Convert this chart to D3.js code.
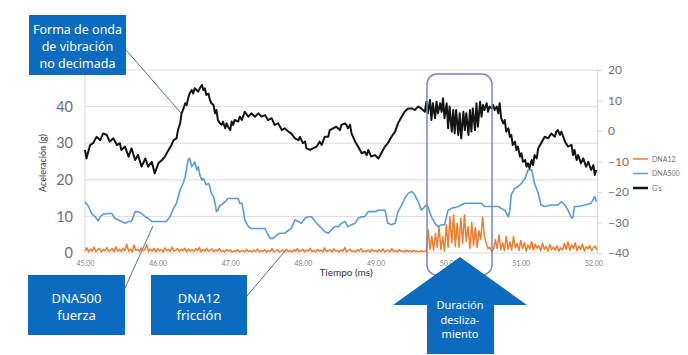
<!DOCTYPE html>
<html><head><meta charset="utf-8">
<script src="https://cdn.jsdelivr.net/npm/d3@7"></script>
<style>html,body{margin:0;padding:0;background:#fff;}svg{display:block;}</style>
</head><body>
<svg id="chart" width="688" height="355"></svg>
<script>
// ---------- DATA ----------
const gridTicks = [0, 10, 20, 30, 40, 50];
const leftTickLabels = [0, 10, 20, 30, 40];   // the "50" label is hidden behind the callout in the original
const rightTicks = [-40, -30, -20, -10, 0, 10, 20];
const xTicks = [45, 46, 47, 48, 49, 50, 51, 52];
const seriesNames = ["DNA12", "DNA500", "G's"];

// G's (right axis): [time ms, value]
const gsData = [[45.00,-6.2],[45.02,-9.0],[45.07,-4.6],[45.11,-4.0],[45.16,-1.9],[45.21,-3.0],[45.25,-0.8],[45.30,-1.3],[45.34,-3.5],[45.39,-2.4],[45.44,-4.6],[45.48,-4.0],[45.50,-6.2],[45.55,-5.1],[45.60,-8.4],[45.64,-5.7],[45.69,-9.5],[45.73,-7.9],[45.78,-11.7],[45.83,-9.0],[45.87,-11.7],[45.92,-10.1],[45.96,-13.9],[46.01,-10.6],[46.06,-9.5],[46.10,-8.4],[46.15,-6.2],[46.19,-4.6],[46.22,-3.0],[46.26,-2.4],[46.28,0.3],[46.31,2.5],[46.33,5.8],[46.35,6.9],[46.38,9.1],[46.40,8.5],[46.42,10.7],[46.44,12.3],[46.47,13.4],[46.49,12.3],[46.51,14.0],[46.56,12.9],[46.58,14.0],[46.61,15.1],[46.63,13.4],[46.65,14.0],[46.67,11.8],[46.70,12.3],[46.72,10.2],[46.74,9.1],[46.77,8.5],[46.79,5.8],[46.81,6.9],[46.83,3.6],[46.86,2.5],[46.88,2.0],[46.90,3.1],[46.93,0.9],[46.95,2.5],[46.97,1.4],[47.00,0.3],[47.02,3.1],[47.04,2.0],[47.06,3.6],[47.11,3.1],[47.13,4.7],[47.16,3.6],[47.20,6.3],[47.25,4.7],[47.29,5.8],[47.34,4.7],[47.39,5.8],[47.43,4.7],[47.48,5.2],[47.52,3.6],[47.57,4.2],[47.61,2.0],[47.66,2.5],[47.71,0.3],[47.75,0.9],[47.80,-0.2],[47.84,-0.8],[47.89,-2.4],[47.94,-3.0],[47.96,-1.9],[48.00,-4.0],[48.03,-3.5],[48.05,-5.7],[48.10,-6.2],[48.14,-5.7],[48.19,-5.1],[48.23,-3.5],[48.26,-4.6],[48.30,-1.9],[48.35,-1.9],[48.37,0.3],[48.42,0.9],[48.46,1.4],[48.51,0.3],[48.53,2.0],[48.58,2.5],[48.60,2.0],[48.62,0.9],[48.65,2.0],[48.67,-0.8],[48.72,-3.5],[48.76,-5.1],[48.81,-7.3],[48.85,-6.8],[48.88,-7.9],[48.90,-6.2],[48.94,-8.4],[48.99,-7.9],[49.04,-9.0],[49.08,-7.3],[49.13,-5.1],[49.17,-4.0],[49.22,-1.9],[49.27,-0.2],[49.31,2.5],[49.36,4.7],[49.40,6.3],[49.45,7.4],[49.50,7.4],[49.54,6.9],[49.59,8.0],[49.63,7.4],[49.68,6.3],[49.70,9.6],[49.72,5.8],[49.75,10.2],[49.77,3.6],[49.79,9.1],[49.82,4.2],[49.84,9.6],[49.86,5.8],[49.89,9.1],[49.91,6.3],[49.93,10.7],[49.95,4.2],[49.98,9.1],[50.00,0.9],[50.02,8.0],[50.05,-0.2],[50.07,6.9],[50.09,-0.8],[50.11,6.9],[50.14,-1.3],[50.16,5.8],[50.18,-2.4],[50.21,6.3],[50.23,0.3],[50.25,5.8],[50.28,-1.3],[50.30,6.9],[50.32,-0.2],[50.34,7.4],[50.37,0.3],[50.39,9.1],[50.41,1.4],[50.44,9.6],[50.46,4.7],[50.48,8.5],[50.50,6.9],[50.53,9.1],[50.55,6.3],[50.57,8.0],[50.60,7.4],[50.62,8.5],[50.64,6.9],[50.67,8.0],[50.69,5.8],[50.71,9.1],[50.73,4.2],[50.76,2.5],[50.78,3.6],[50.80,-0.2],[50.83,0.9],[50.85,-1.9],[50.87,-1.3],[50.89,-4.6],[50.92,-3.5],[50.94,-6.2],[50.96,-5.1],[50.99,-8.4],[51.01,-7.3],[51.03,-10.1],[51.06,-9.5],[51.08,-11.7],[51.10,-10.6],[51.12,-12.2],[51.15,-9.5],[51.17,-11.2],[51.19,-7.9],[51.22,-9.0],[51.24,-5.7],[51.28,-4.0],[51.33,-1.9],[51.38,-2.4],[51.42,-0.8],[51.47,-1.9],[51.49,-0.2],[51.51,0.3],[51.54,-1.3],[51.56,-0.2],[51.61,-3.5],[51.65,-5.1],[51.70,-4.6],[51.72,-7.9],[51.74,-6.2],[51.77,-9.5],[51.79,-7.9],[51.83,-10.6],[51.86,-9.0],[51.90,-11.7],[51.93,-10.1],[51.97,-12.8],[52.00,-11.2],[52.02,-14.4],[52.04,-12.8]];

// DNA500 (left axis): [time ms, value]
const dna500Data = [[45.00,14.0],[45.05,12.7],[45.09,10.8],[45.14,9.9],[45.18,8.8],[45.21,9.9],[45.25,10.6],[45.32,10.8],[45.37,10.8],[45.41,9.5],[45.46,9.0],[45.50,8.6],[45.55,8.1],[45.60,8.6],[45.64,8.6],[45.69,11.3],[45.73,11.3],[45.78,10.8],[45.83,9.9],[45.87,9.5],[45.92,8.6],[45.96,8.6],[46.06,8.6],[46.12,8.6],[46.17,9.9],[46.22,12.2],[46.26,13.6],[46.31,17.2],[46.35,19.0],[46.38,20.9],[46.40,23.1],[46.42,25.4],[46.44,25.9],[46.47,23.6],[46.49,24.0],[46.51,24.9],[46.54,22.7],[46.56,23.6],[46.58,21.3],[46.61,19.9],[46.63,20.4],[46.65,19.5],[46.67,18.6],[46.70,19.0],[46.72,18.1],[46.74,16.3],[46.77,15.4],[46.79,13.6],[46.81,11.3],[46.83,11.7],[46.86,13.1],[46.88,13.1],[46.90,13.6],[46.93,14.0],[46.97,14.9],[47.11,14.9],[47.13,13.6],[47.16,13.6],[47.18,11.7],[47.20,9.0],[47.25,7.2],[47.29,6.7],[47.39,6.7],[47.48,6.7],[47.51,5.4],[47.55,4.0],[47.59,4.0],[47.64,4.9],[47.68,5.4],[47.75,5.4],[47.84,6.7],[47.89,9.0],[47.94,8.6],[47.98,8.1],[48.03,9.5],[48.07,9.9],[48.12,9.9],[48.17,8.6],[48.21,7.7],[48.26,6.7],[48.30,5.8],[48.35,5.4],[48.39,6.3],[48.44,7.2],[48.49,7.2],[48.53,8.1],[48.58,8.6],[48.62,7.2],[48.67,7.7],[48.72,8.1],[48.76,9.5],[48.81,9.9],[48.85,9.9],[48.90,11.3],[48.94,11.3],[48.99,11.3],[49.04,11.7],[49.08,11.7],[49.13,11.7],[49.15,9.9],[49.17,8.1],[49.22,7.7],[49.27,8.1],[49.31,11.3],[49.36,13.1],[49.40,14.9],[49.45,16.3],[49.50,16.8],[49.54,15.9],[49.59,14.0],[49.63,11.7],[49.68,12.7],[49.70,13.1],[49.72,12.7],[49.77,9.9],[49.82,8.1],[49.86,7.2],[49.91,7.7],[49.95,7.7],[50.00,11.7],[50.05,12.2],[50.14,12.7],[50.23,13.6],[50.46,13.6],[50.50,12.7],[50.69,12.7],[50.73,12.2],[50.78,11.7],[50.83,9.9],[50.85,11.7],[50.87,16.0],[50.92,17.7],[50.96,18.1],[51.01,19.0],[51.06,20.4],[51.10,22.7],[51.15,22.7],[51.19,19.0],[51.24,16.3],[51.28,13.1],[51.33,12.7],[51.42,13.1],[51.51,13.1],[51.56,14.0],[51.61,13.1],[51.65,11.7],[51.70,9.5],[51.72,9.9],[51.74,12.7],[51.79,12.7],[51.88,13.1],[51.97,13.6],[52.02,15.4],[52.04,14.0]];

// DNA12 (left axis): sampled every 0.025 ms starting at 45.00 ms
const dna12Start = 45.0;
const dna12Step = 0.025;
const dna12Values = [
0.6,1.4,0.3,1.1,0.5,1.6,0.4,0.9,1.3,0.3,1.0,0.6,1.5,0.4,0.8,1.2,0.3,1.7,0.5,1.0,
0.4,1.3,0.6,2.4,0.5,1.1,0.3,2.2,0.7,1.0,0.4,1.4,0.6,0.9,2.3,0.4,1.0,0.5,1.3,0.3,
1.2,0.5,0.9,0.3,1.4,0.6,1.0,0.4,1.6,0.5,0.8,1.2,0.4,1.0,0.6,1.3,0.3,1.1,0.5,0.9,
0.4,1.2,0.6,1.5,0.3,1.0,0.5,1.3,0.4,0.8,1.1,0.3,0.9,0.5,1.2,0.4,0.7,0.3,1.0,0.5,
0.8,0.3,0.6,0.4,0.9,0.3,0.5,0.7,0.3,1.0,0.4,0.6,0.3,0.8,0.4,1.1,0.3,0.6,0.4,0.9,
0.3,0.7,0.4,1.2,0.3,0.6,0.9,0.3,0.5,0.8,0.3,1.0,0.4,0.7,0.3,0.9,0.5,1.2,0.4,0.6,
1.0,0.3,0.8,0.5,1.3,0.4,0.7,0.3,1.0,0.5,0.8,0.3,1.4,0.4,0.6,0.9,0.3,1.1,0.5,0.7,
0.3,0.9,0.4,1.5,0.3,0.7,1.0,0.4,0.6,0.3,0.9,0.5,1.2,0.3,0.6,0.4,0.8,0.3,1.0,0.5,
0.7,0.3,0.9,0.4,1.1,0.3,0.6,0.8,0.3,1.2,0.4,0.7,0.3,0.9,0.5,0.6,0.3,0.8,0.4,0.6,
0.3,0.7,0.4,0.5,0.3,0.6,0.4,0.5,
0.6,6.3,1.0,4.6,0.8,5.4,1.5,7.2,0.9,4.5,0.5,7.7,1.6,9.9,2.8,10.4,1.8,8.1,1.5,9.5,
2.6,10.4,3.2,7.2,1.3,8.3,2.1,7.0,1.5,6.1,3.8,9.9,4.5,2.6,1.2,1.6,0.4,
1.0,3.6,1.2,4.9,0.9,2.8,0.6,4.5,1.0,3.0,0.8,4.5,1.4,2.6,0.7,3.4,1.2,2.8,0.5,2.2,
1.1,3.1,0.8,2.4,1.3,2.0,0.6,2.7,1.0,1.8,0.5,2.3,0.9,1.6,0.7,2.0,0.5,1.4,0.8,2.6,
1.0,3.0,0.7,2.2,1.2,2.8,0.6,1.9,1.0,2.4,0.5,1.7,1.1,2.0,0.6,1.5,1.9,0.8];

const colors = {"DNA12": "#ed7d31", "DNA500": "#5b9bd5", "G's": "#151515"};

// ---------- CHART ----------
const svg = d3.select("#chart");
const plot = {left: 85, right: 597, top: 70, bottom: 253};

const x = d3.scaleLinear().domain([45, 52.05]).range([plot.left, plot.right]);
const yL = d3.scaleLinear().domain([0, 50]).range([plot.bottom, plot.top]);
const yR = d3.scaleLinear().domain([-40, 20]).range([plot.bottom, plot.top]);

const chartFont = "Lato, 'Liberation Sans', sans-serif";
const boxFont = "'Noto Sans', 'Open Sans', sans-serif";

// gridlines
svg.append("g").selectAll("line").data(gridTicks).join("line")
  .attr("x1", plot.left).attr("x2", plot.right)
  .attr("y1", d => yL(d)).attr("y2", d => yL(d))
  .attr("stroke", "#dcdcdc").attr("stroke-width", 1);

// left axis line
svg.append("line").attr("x1", plot.left).attr("x2", plot.left)
  .attr("y1", plot.top).attr("y2", plot.bottom).attr("stroke", "#d6d6d6");

// left tick labels
const gL = svg.append("g").attr("transform", `translate(${plot.left},0)`)
  .call(d3.axisLeft(yL).tickValues(leftTickLabels).tickSize(0).tickPadding(12).tickFormat(d3.format("d")));
gL.select(".domain").remove();
gL.selectAll("text").attr("font-family", chartFont).attr("font-size", 14.5).attr("fill", "#6f6f6f");

// right axis
const gR = svg.append("g").attr("transform", `translate(${plot.right},0)`)
  .call(d3.axisRight(yR).tickValues(rightTicks).tickSize(5).tickPadding(6).tickFormat(d3.format("d")));
gR.select(".domain").attr("stroke", "#d6d6d6");
gR.selectAll(".tick line").attr("stroke", "#d6d6d6");
gR.selectAll("text").attr("font-family", chartFont).attr("font-size", 12).attr("fill", "#6f6f6f");

// x axis labels
const gX = svg.append("g").attr("transform", `translate(0,${plot.bottom})`)
  .call(d3.axisBottom(x).tickValues(xTicks).tickSize(0).tickPadding(8).tickFormat(d3.format(".2f")));
gX.select(".domain").remove();
gX.selectAll("text").attr("font-family", chartFont).attr("font-size", 7).attr("fill", "#7f7f7f");

// axis titles
svg.append("text").attr("x", 346).attr("y", 276).attr("text-anchor", "middle")
  .attr("font-family", chartFont).attr("font-size", 10).attr("fill", "#333").text("Tiempo (ms)");
svg.append("text").attr("transform", "translate(46,163) rotate(-90)").attr("text-anchor", "middle")
  .attr("font-family", chartFont).attr("font-size", 9).attr("fill", "#333").text("Aceleración (g)");

// series
const lineL = d3.line().x(d => x(d[0])).y(d => yL(d[1]));
const lineR = d3.line().x(d => x(d[0])).y(d => yR(d[1]));
const dna12Data = dna12Values.map((v, i) => [dna12Start + i * dna12Step, v]);

svg.append("path").datum(dna500Data).attr("d", lineL).attr("fill", "none")
  .attr("stroke", colors["DNA500"]).attr("stroke-width", 1.6).attr("stroke-linejoin", "round");
svg.append("path").datum(dna12Data).attr("d", lineL).attr("fill", "none")
  .attr("stroke", colors["DNA12"]).attr("stroke-width", 1.5).attr("stroke-linejoin", "round");
svg.append("path").datum(gsData).attr("d", lineR).attr("fill", "none")
  .attr("stroke", colors["G's"]).attr("stroke-width", 2).attr("stroke-linejoin", "round");

// legend
const leg = svg.append("g").selectAll("g").data(seriesNames).join("g")
  .attr("transform", (d, i) => `translate(633,${159 + i * 14.5})`);
leg.append("line").attr("x1", 0).attr("x2", 15).attr("y1", 0).attr("y2", 0)
  .attr("stroke", d => colors[d]).attr("stroke-width", d => d === "G's" ? 2.5 : 1.5);
leg.append("text").attr("x", 19).attr("y", 2.5).attr("font-family", chartFont)
  .attr("font-size", 7).attr("fill", "#6f6f6f").text(d => d);

// slip-duration rounded rectangle
svg.append("rect").attr("x", 427).attr("y", 74).attr("width", 65).attr("height", 201)
  .attr("rx", 10).attr("fill", "none").attr("stroke", "#7a88bd").attr("stroke-width", 1.5);

// connector lines
const connectors = [[126, 50, 181, 113], [125, 288, 153, 226], [247, 296, 285, 251]];
svg.append("g").selectAll("line").data(connectors).join("line")
  .attr("x1", d => d[0]).attr("y1", d => d[1]).attr("x2", d => d[2]).attr("y2", d => d[3])
  .attr("stroke", "#5c6ca8").attr("stroke-width", 1);

// callout boxes
const boxBlue = "#0b6cbf";
const callouts = [
  {x: 29, y: 15, w: 97, h: 60, lines: ["Forma de onda", "de vibración", "no decimada"], fs: 12.5, ys: [34, 51, 68]},
  {x: 28, y: 275, w: 97, h: 60, lines: ["DNA500", "fuerza"], fs: 13, ys: [303, 320]},
  {x: 151, y: 275, w: 96, h: 60, lines: ["DNA12", "fricción"], fs: 13, ys: [303, 320]}
];
callouts.forEach(c => {
  svg.append("rect").attr("x", c.x).attr("y", c.y).attr("width", c.w).attr("height", c.h).attr("fill", boxBlue);
  c.lines.forEach((t, i) => {
    svg.append("text").attr("x", c.x + c.w / 2).attr("y", c.ys[i]).attr("text-anchor", "middle")
      .attr("font-family", boxFont).attr("font-size", c.fs).attr("fill", "#fff").text(t);
  });
});

// up arrow
const arrowPts = [[460, 257], [527, 305], [494, 305], [494, 354], [427, 354], [427, 305], [393, 305]];
svg.append("polygon").attr("points", arrowPts.map(p => p.join(",")).join(" ")).attr("fill", boxBlue);
["Duración", "desliza-", "miento"].forEach((t, i) => {
  svg.append("text").attr("x", 460).attr("y", 309 + i * 14.5).attr("text-anchor", "middle")
    .attr("font-family", boxFont).attr("font-size", 11).attr("fill", "#fff").text(t);
});
</script>
</body></html>
